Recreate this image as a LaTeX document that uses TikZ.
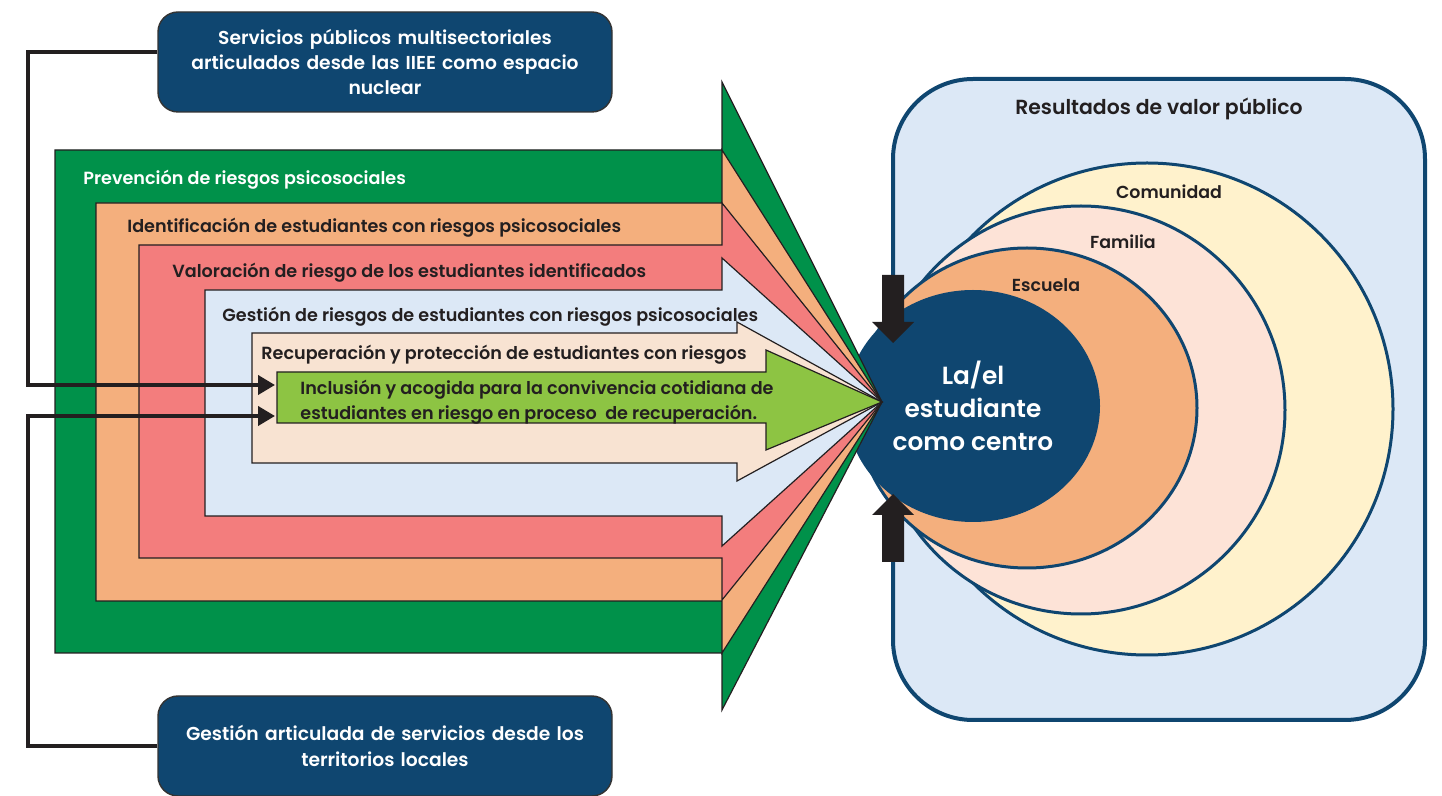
\documentclass[tikz,border=0pt]{standalone}
\usepackage{fontspec}
\setmainfont{Poppins}[BoldFont={Poppins SemiBold}]
\usetikzlibrary{arrows.meta,shapes.geometric}
\pgfdeclarelayer{background}
\pgfsetlayers{background,main}
\definecolor{azul}{HTML}{0F4670}
\definecolor{negro}{HTML}{231F20}
\definecolor{gris}{HTML}{333333}
\definecolor{verde}{HTML}{00914A}
\definecolor{naranja}{HTML}{F4AF7D}
\definecolor{rojo}{HTML}{F37D7D}
\definecolor{celeste}{HTML}{DCE8F6}
\definecolor{durazno}{HTML}{F8E3D2}
\definecolor{lima}{HTML}{8DC443}
\definecolor{rosa}{HTML}{FDE3D7}
\definecolor{crema}{HTML}{FFF2CC}
\tikzstyle{caja}=[draw=gris, line width=0.7pt, fill=azul, rounded corners=10pt,
  text=white, text width=215pt, align=center, minimum width=227pt,
  minimum height=50pt, font=\bfseries\fontsize{9.35}{12.7}\selectfont]
\tikzstyle{etiqueta}=[anchor=west, inner sep=0pt, text=negro,
  font=\bfseries\fontsize{8.8}{12.2}\selectfont]
\tikzstyle{banda}=[draw=negro, line width=0.6pt, line join=miter]
\tikzstyle{conector}=[draw, line width=2pt, color=negro,
  -{Triangle[length=8.5pt,width=9.5pt]}]
\tikzstyle{anillo}=[draw=azul, line width=1.5pt]
\tikzstyle{bloque}=[fill=negro]
% band arrow: colour, left, top, right, bottom, head top, head bottom
\newcommand{\bandarrow}[7]{%
  \path[banda, fill=#1] (#2,#3) -- (#4,#3) -- (#4,#6) -- (TIP)
    -- (#4,#7) -- (#4,#5) -- (#2,#5) -- cycle;}

\begin{document}
\begin{tikzpicture}[x=0.5pt, y=-0.5pt]
  \useasboundingbox (0,0) rectangle (1442,796);

  % Draw diagram elements
  % results frame
  \begin{pgfonlayer}{background}
    \path[fill=celeste, draw=azul, line width=2pt, rounded corners=40pt]
      (893,79) rectangle (1425,720);
  \end{pgfonlayer}
  \node[etiqueta, anchor=center, font=\bfseries\fontsize{10.2}{12}\selectfont]
    (RESULT) at (1159,109) {Resultados de valor público};

  % rings round the student
  \draw[anillo, fill=crema] (1147,409) circle [radius=246];
  \draw[anillo, fill=rosa] (1081,410) circle [radius=204];
  \draw[anillo, fill=naranja] (1027,408) ellipse [x radius=170, y radius=160];
  \node[etiqueta, anchor=center, font=\bfseries\fontsize{8.7}{12}\selectfont]
    (COMUN) at (1169,192) {Comunidad};
  \node[etiqueta, anchor=center, font=\bfseries\fontsize{8.7}{12}\selectfont]
    (FAMIL) at (1123,242) {Familia};
  \node[etiqueta, anchor=center, font=\bfseries\fontsize{8.7}{12}\selectfont]
    (ESCUE) at (1046,285) {Escuela};
  \node[ellipse, fill=azul, minimum width=127pt, minimum height=116pt,
    text=white, align=center, inner sep=0pt,
    font=\bfseries\fontsize{12.4}{16.5}\selectfont]
    (ESTUD) at (973,406) {La/el\\estudiante\\como centro};

  % block arrows on the student
  \path[bloque] (882,275) -- (904,275) -- (904,322) -- (914,322) -- (893,343)
    -- (872,322) -- (882,322) -- cycle;
  \path[bloque] (882,562) -- (904,562) -- (904,515) -- (914,515) -- (893,494)
    -- (872,515) -- (882,515) -- cycle;

  % nested band arrows
  \coordinate (TIP) at (882,402);
  \bandarrow{verde}{55}{150}{722}{653}{82}{710}
  \bandarrow{naranja}{96}{203}{722}{601}{150}{653}
  \bandarrow{rojo}{139}{245}{722}{558}{203}{600}
  \bandarrow{celeste}{205}{290}{722}{516}{258}{546}
  \bandarrow{durazno}{252}{333}{737}{463}{322}{481}
  \bandarrow{lima}{277}{372}{766}{423}{350}{450}

  \node[etiqueta, text=white] (PREV) at (83,180) {Prevención de riesgos psicosociales};
  \node[etiqueta] (IDENT) at (127,228) {Identificación de estudiantes con riesgos psicosociales};
  \node[etiqueta] (VALOR) at (172,273) {Valoración de riesgo de los estudiantes identificados};
  \node[etiqueta] (GESTR) at (222,317) {Gestión de riesgos de estudiantes con riesgos psicosociales};
  \node[etiqueta] (RECUP) at (261,355) {Recuperación y protección de estudiantes con riesgos};
  \node[etiqueta, align=left] (INCLU) at (300,402)
    {Inclusión y acogida para la convivencia cotidiana de\\estudiantes en riesgo en proceso~ de recuperación.};

  % service boxes
  \node[caja] (SERVPUB) at (385,62)
    {Servicios públicos multisectoriales\\articulados desde las IIEE como espacio\\nuclear};
  \node[caja] (GESTLOC) at (385,746)
    {Gestión articulada de servicios desde los\\territorios locales};

  % Draw arrows between elements
  \coordinate (INCLU-a) at (275,385);
  \coordinate (INCLU-b) at (275,416);
  \path[conector] ([yshift=5pt]SERVPUB.west) -| (28,385) -- (INCLU-a);
  \path[conector] (GESTLOC.west) -| (28,416) -- (INCLU-b);

\end{tikzpicture}
\end{document}
